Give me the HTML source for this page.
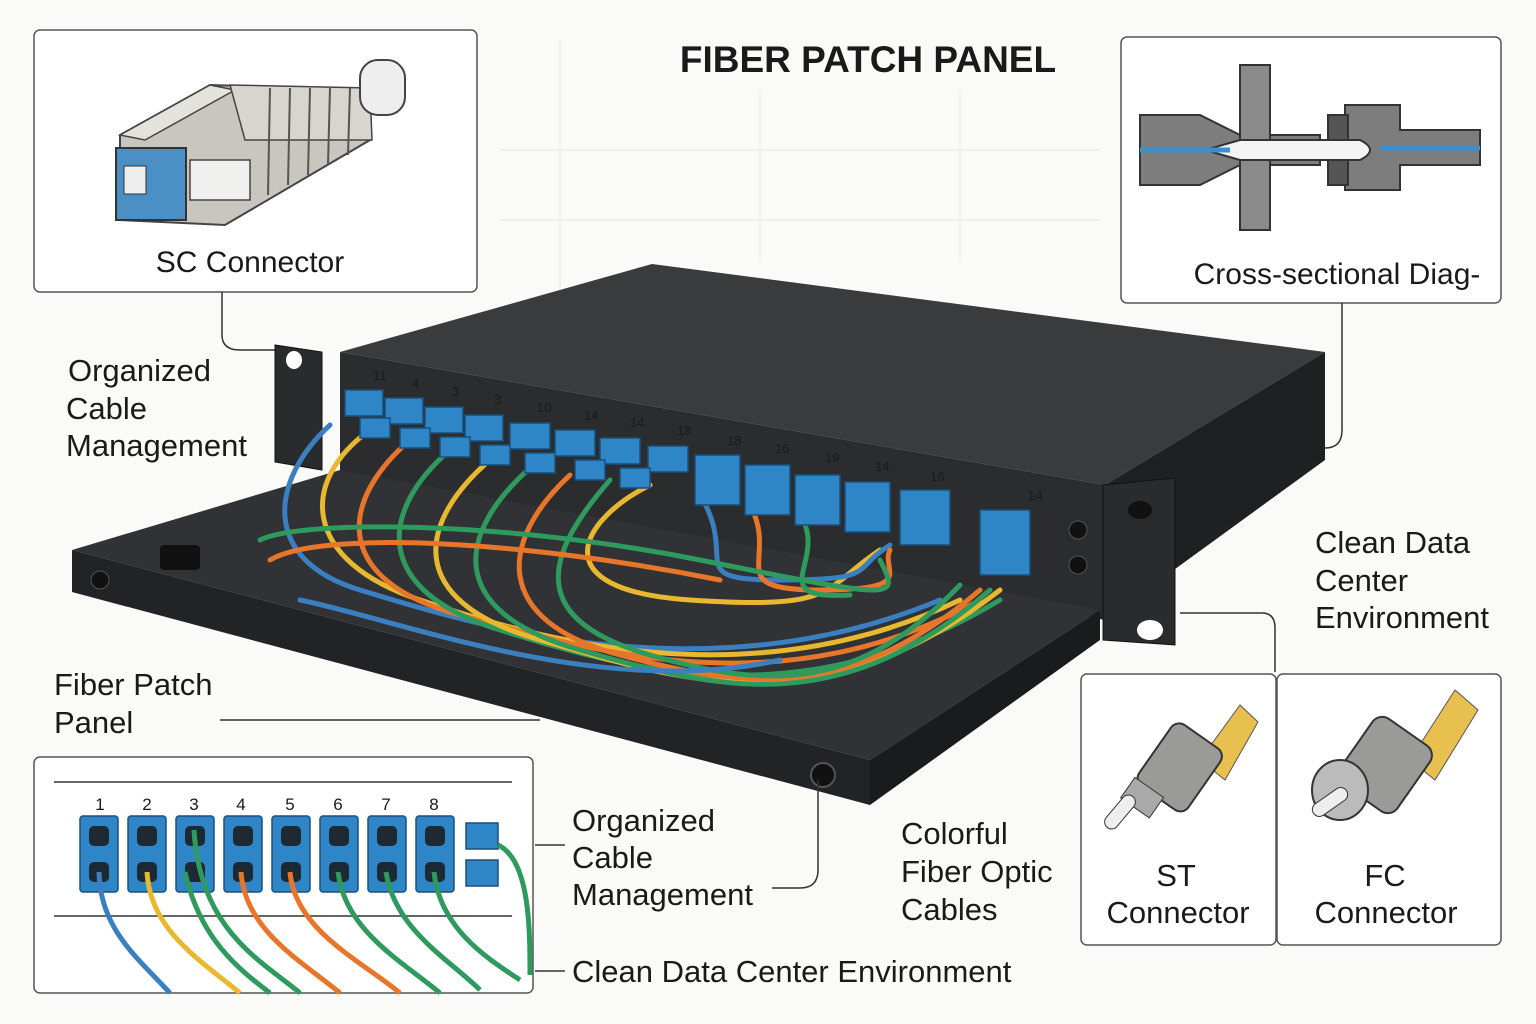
<!DOCTYPE html>
<html><head><meta charset="utf-8"><style>
html,body{margin:0;padding:0;background:#fafaf9;}
svg{display:block;}
text{font-family:"Liberation Sans","DejaVu Sans",sans-serif;fill:#1a1a1a;}
</style></head><body>
<svg width="1536" height="1024" viewBox="0 0 1536 1024" xmlns="http://www.w3.org/2000/svg">
<rect width="1536" height="1024" fill="#fafaf9"/>
<g stroke="#f0f0f0" stroke-width="2" fill="none">
<line x1="560" y1="40" x2="560" y2="300"/><line x1="760" y1="90" x2="760" y2="260"/><line x1="960" y1="90" x2="960" y2="260"/>
<line x1="500" y1="150" x2="1100" y2="150"/><line x1="500" y1="220" x2="1100" y2="220"/>
</g>
<text x="868" y="72" font-size="37" font-weight="bold" text-anchor="middle" fill="#222">FIBER PATCH PANEL</text>

<!-- top-left box -->
<rect x="34" y="30" width="443" height="262" rx="6" fill="#fff" stroke="#555" stroke-width="1.5"/>
<g>
<polygon points="120,135 210,85 370,90 370,140 225,225 120,220" fill="#c9c6bf" stroke="#444" stroke-width="2"/>
<polygon points="120,135 210,85 235,90 145,140" fill="#e4e2dc" stroke="#444" stroke-width="1.5"/>
<polygon points="230,85 370,88 372,140 245,140" fill="#d8d5ce" stroke="#444" stroke-width="1.5"/>
<g stroke="#555" stroke-width="2"><line x1="270" y1="88" x2="268" y2="195"/><line x1="290" y1="88" x2="288" y2="185"/><line x1="310" y1="88" x2="308" y2="175"/><line x1="330" y1="88" x2="328" y2="165"/><line x1="350" y1="88" x2="348" y2="155"/></g>
<rect x="360" y="60" width="45" height="55" rx="18" fill="#eee" stroke="#444" stroke-width="2"/>
<rect x="116" y="148" width="70" height="72" fill="#4a90c4" stroke="#333" stroke-width="2"/>
<rect x="124" y="166" width="22" height="28" fill="#eee" stroke="#333"/>
<rect x="190" y="160" width="60" height="40" fill="#f0f0ee" stroke="#444" stroke-width="1.5"/>
</g>
<text x="250" y="272" font-size="30" text-anchor="middle">SC Connector</text>
<path d="M222 292 V335 Q222 350 240 350 H280" fill="none" stroke="#333" stroke-width="1.5"/>

<!-- top-right box -->
<rect x="1121" y="37" width="380" height="266" rx="6" fill="#fff" stroke="#555" stroke-width="1.5"/>
<g stroke="#333" stroke-width="2">
<polygon points="1140,115 1200,115 1240,135 1320,135 1320,165 1240,165 1200,185 1140,185" fill="#7d7d7d"/>
<rect x="1240" y="65" width="30" height="165" fill="#8a8a8a"/>
<polygon points="1345,105 1400,105 1400,130 1480,130 1480,165 1400,165 1400,190 1345,190" fill="#7d7d7d"/>
<rect x="1328" y="115" width="20" height="70" fill="#555"/>
<path d="M1205 150 L1240 140 H1360 Q1380 150 1360 160 H1240 Z" fill="#f4f4f4"/>
</g>
<line x1="1140" y1="150" x2="1230" y2="150" stroke="#3a8fd0" stroke-width="5"/>
<line x1="1380" y1="148" x2="1480" y2="148" stroke="#3a8fd0" stroke-width="5"/>
<text x="1337" y="284" font-size="30" text-anchor="middle">Cross-sectional Diag-</text>
<path d="M1342 303 V430 Q1342 448 1325 448 H1300" fill="none" stroke="#333" stroke-width="1.5"/>

<!-- panel body -->
<polygon points="340,352 652,264 1325,352 1105,485" fill="#3a3b3d"/>
<polygon points="340,352 1105,485 1105,620 340,480" fill="#2b2c2e"/>
<polygon points="1105,485 1325,352 1325,460 1105,620" fill="#1f2022"/>
<!-- tray -->
<polygon points="72,550 340,470 1100,610 870,760" fill="#313235"/>
<polygon points="72,550 870,760 870,805 72,592" fill="#222325"/>
<polygon points="870,760 1100,610 1100,640 870,805" fill="#1a1b1c"/>
<circle cx="100" cy="580" r="9" fill="#111" stroke="#555"/>
<circle cx="823" cy="775" r="12" fill="#111" stroke="#555" stroke-width="2"/>
<rect x="160" y="545" width="40" height="25" rx="4" fill="#111"/>
<!-- ears -->
<polygon points="275,345 322,352 322,470 275,462" fill="#2a2b2d" stroke="#111"/>
<ellipse cx="294" cy="360" rx="8" ry="9" fill="#fff"/>
<polygon points="1103,485 1175,478 1175,645 1103,640" fill="#2a2b2d" stroke="#111"/>
<ellipse cx="1140" cy="510" rx="12" ry="9" fill="#111"/>
<ellipse cx="1150" cy="630" rx="13" ry="10" fill="#fff"/>
<circle cx="1078" cy="530" r="9" fill="#111" stroke="#555"/>
<circle cx="1078" cy="565" r="9" fill="#111" stroke="#555"/>

<!-- port numbers -->
<g font-size="13">
<text x="373" y="380" fill="#ddd">11</text><text x="412" y="388" fill="#ddd">4</text><text x="452" y="396" fill="#ddd">3</text><text x="494" y="404" fill="#ddd">3</text><text x="537" y="412" fill="#ddd">10</text><text x="584" y="420" fill="#ddd">14</text><text x="630" y="427" fill="#ddd">14</text><text x="677" y="435" fill="#ddd">18</text><text x="727" y="445" fill="#ddd">18</text><text x="775" y="453" fill="#ddd">16</text><text x="825" y="462" fill="#ddd">19</text><text x="875" y="471" fill="#ddd">14</text><text x="930" y="481" fill="#ddd">16</text><text x="1028" y="500" fill="#ddd">14</text>
</g>
<!-- cables -->
<g fill="none" stroke-width="5" stroke-linecap="round">
<path d="M330 425 C270 480 260 560 360 590 S700 700 940 600" stroke="#3a7fc0"/>
<path d="M370 430 C300 480 300 560 420 600 S750 700 960 600" stroke="#e8b830"/>
<path d="M410 440 C340 500 330 580 460 615 S780 710 980 600" stroke="#e8762a"/>
<path d="M450 450 C380 510 370 590 500 630 S800 720 1000 600" stroke="#2e9a5e"/>
<path d="M490 460 C420 520 400 600 540 640 S820 730 1000 590" stroke="#e8b830"/>
<path d="M530 468 C460 530 440 610 580 650 S840 720 990 590" stroke="#2e9a5e"/>
<path d="M570 475 C500 540 490 620 620 655 S850 700 980 590" stroke="#e8762a"/>
<path d="M610 480 C540 560 530 620 650 655 S860 690 960 585" stroke="#2e9a5e"/>
<path d="M650 485 C580 520 540 590 690 600 S820 590 880 550" stroke="#e8b830"/>
<path d="M700 495 C740 560 680 580 780 580 S850 570 890 545" stroke="#3a7fc0"/>
<path d="M750 505 C780 560 720 590 820 590 S880 570 890 550" stroke="#e8762a"/>
<path d="M800 515 C830 560 760 600 850 595" stroke="#2e9a5e"/>
<path d="M260 540 C300 520 500 520 700 560 S900 600 880 560" stroke="#2e9a5e"/>
<path d="M270 560 C320 530 520 540 720 580" stroke="#e8762a"/>
<path d="M300 600 C400 620 600 700 780 660" stroke="#3a7fc0"/>
</g>
<!-- connectors -->
<g fill="#2f86c6" stroke="#1a4f7a" stroke-width="1.5">
<rect x="345" y="390" width="38" height="26"/><rect x="385" y="398" width="38" height="26"/><rect x="425" y="407" width="38" height="26"/><rect x="465" y="415" width="38" height="26"/><rect x="510" y="423" width="40" height="26"/><rect x="555" y="430" width="40" height="26"/><rect x="600" y="438" width="40" height="26"/><rect x="648" y="446" width="40" height="26"/><rect x="695" y="455" width="45" height="50"/><rect x="745" y="465" width="45" height="50"/><rect x="795" y="475" width="45" height="50"/><rect x="845" y="482" width="45" height="50"/><rect x="900" y="490" width="50" height="55"/><rect x="980" y="510" width="50" height="65"/>
<rect x="360" y="418" width="30" height="20"/><rect x="400" y="428" width="30" height="20"/><rect x="440" y="437" width="30" height="20"/><rect x="480" y="445" width="30" height="20"/><rect x="525" y="453" width="30" height="20"/><rect x="575" y="460" width="30" height="20"/><rect x="620" y="468" width="30" height="20"/>
</g>

<!-- labels -->
<g font-size="31">
<text x="68" y="381">Organized</text><text x="66" y="419">Cable</text><text x="66" y="456">Management</text>
<text x="1315" y="553">Clean Data</text><text x="1315" y="591">Center</text><text x="1315" y="628">Environment</text>
<text x="54" y="695">Fiber Patch</text><text x="54" y="733">Panel</text>
<text x="572" y="831">Organized</text><text x="572" y="868">Cable</text><text x="572" y="905">Management</text>
<text x="901" y="844">Colorful</text><text x="901" y="882">Fiber Optic</text><text x="901" y="920">Cables</text>
<text x="572" y="982">Clean Data Center Environment</text>
</g>
<g fill="none" stroke="#333" stroke-width="1.5">
<line x1="220" y1="720" x2="540" y2="720"/>
<path d="M772 888 H800 Q818 888 818 870 V780"/>
<path d="M1180 613 H1262 Q1275 613 1275 628 V672"/>
<line x1="535" y1="845" x2="565" y2="845"/>
<line x1="535" y1="971" x2="565" y2="971"/>
</g>

<!-- bottom-left box -->
<rect x="34" y="757" width="499" height="236" rx="6" fill="#fff" stroke="#555" stroke-width="1.5"/>
<line x1="54" y1="782" x2="512" y2="782" stroke="#333" stroke-width="1.5"/>
<line x1="54" y1="916" x2="512" y2="916" stroke="#333" stroke-width="1.5"/>
<g font-size="17" text-anchor="middle">
<text x="100" y="810">1</text><text x="147" y="810">2</text><text x="194" y="810">3</text><text x="241" y="810">4</text><text x="290" y="810">5</text><text x="338" y="810">6</text><text x="386" y="810">7</text><text x="434" y="810">8</text>
</g>
<g fill="#2f86c6" stroke="#1a4f7a" stroke-width="1.5">
<rect x="80" y="816" width="38" height="76" rx="3"/><rect x="128" y="816" width="38" height="76" rx="3"/><rect x="176" y="816" width="38" height="76" rx="3"/><rect x="224" y="816" width="38" height="76" rx="3"/><rect x="272" y="816" width="38" height="76" rx="3"/><rect x="320" y="816" width="38" height="76" rx="3"/><rect x="368" y="816" width="38" height="76" rx="3"/><rect x="416" y="816" width="38" height="76" rx="3"/><rect x="466" y="823" width="32" height="26"/><rect x="466" y="860" width="32" height="26"/>
</g>
<g fill="#1d2a33">
<rect x="89" y="826" width="20" height="20" rx="5"/><rect x="137" y="826" width="20" height="20" rx="5"/><rect x="185" y="826" width="20" height="20" rx="5"/><rect x="233" y="826" width="20" height="20" rx="5"/><rect x="281" y="826" width="20" height="20" rx="5"/><rect x="329" y="826" width="20" height="20" rx="5"/><rect x="377" y="826" width="20" height="20" rx="5"/><rect x="425" y="826" width="20" height="20" rx="5"/>
<rect x="89" y="862" width="20" height="20" rx="5"/><rect x="137" y="862" width="20" height="20" rx="5"/><rect x="185" y="862" width="20" height="20" rx="5"/><rect x="233" y="862" width="20" height="20" rx="5"/><rect x="281" y="862" width="20" height="20" rx="5"/><rect x="329" y="862" width="20" height="20" rx="5"/><rect x="377" y="862" width="20" height="20" rx="5"/><rect x="425" y="862" width="20" height="20" rx="5"/>
</g>
<g fill="none" stroke-width="5">
<path d="M99 872 C100 930 140 960 170 993" stroke="#3a7fc0"/>
<path d="M147 872 C150 930 200 960 240 993" stroke="#e8b830"/>
<path d="M194 830 C200 930 260 960 300 993" stroke="#2e9a5e"/>
<path d="M185 872 C200 940 240 970 270 993" stroke="#2e9a5e"/>
<path d="M241 872 C245 930 300 960 340 993" stroke="#e8762a"/>
<path d="M290 872 C295 930 360 960 400 993" stroke="#e8762a"/>
<path d="M338 872 C345 930 400 960 440 993" stroke="#2e9a5e"/>
<path d="M386 872 C395 930 450 960 480 990" stroke="#2e9a5e"/>
<path d="M434 872 C440 930 490 960 520 980" stroke="#2e9a5e"/>
<path d="M498 845 C530 860 530 930 530 975" stroke="#2e9a5e"/>
</g>

<!-- ST box -->
<rect x="1081" y="674" width="195" height="271" rx="6" fill="#fff" stroke="#555" stroke-width="1.5"/>
<g>
<polygon points="1200,760 1240,705 1258,722 1225,780" fill="#e8c050" stroke="#555"/>
<rect x="1150" y="730" width="60" height="75" rx="10" fill="#9a9a98" stroke="#333" stroke-width="2" transform="rotate(35 1180 767)"/>
<rect x="1125" y="785" width="35" height="25" fill="#aaa" stroke="#333" transform="rotate(35 1142 797)"/>
<rect x="1100" y="805" width="40" height="14" rx="7" fill="#eee" stroke="#333" transform="rotate(-50 1120 812)"/>
</g>
<text x="1176" y="886" font-size="31" text-anchor="middle">ST</text>
<text x="1178" y="923" font-size="31" text-anchor="middle">Connector</text>

<!-- FC box -->
<rect x="1277" y="674" width="224" height="271" rx="6" fill="#fff" stroke="#555" stroke-width="1.5"/>
<g>
<polygon points="1410,760 1455,690 1478,710 1435,780" fill="#e8c050" stroke="#555"/>
<rect x="1350" y="725" width="70" height="80" rx="12" fill="#9a9a98" stroke="#333" stroke-width="2" transform="rotate(35 1385 765)"/>
<ellipse cx="1340" cy="790" rx="28" ry="30" fill="#bbb" stroke="#333" stroke-width="2"/>
<rect x="1310" y="795" width="40" height="14" rx="7" fill="#eee" stroke="#333" transform="rotate(-35 1330 802)"/>
</g>
<text x="1385" y="886" font-size="31" text-anchor="middle">FC</text>
<text x="1386" y="923" font-size="31" text-anchor="middle">Connector</text>
</svg>
</body></html>
